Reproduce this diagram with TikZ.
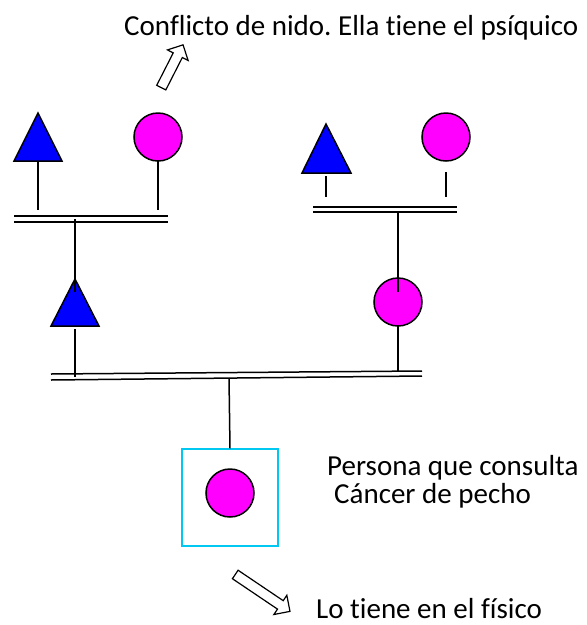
\documentclass[tikz,border=0pt]{standalone}
\usepackage{fontspec}
\setmainfont{Carlito}[RawFeature={-liga;-clig}]
\usetikzlibrary{shapes.arrows}
\frenchspacing
\definecolor{tblue}{RGB}{0,0,255}
\definecolor{tmag}{RGB}{255,0,255}
\definecolor{tcyan}{RGB}{0,200,240}
\tikzset{
  ln/.style={line width=1.5pt, black},
  tri/.style={ln, fill=tblue, line join=miter},
  fem/.style={circle, draw=black, line width=1.5pt, fill=tmag, minimum size=48pt, inner sep=0pt, outer sep=0pt},
  lbl/.style={anchor=base west, inner sep=0pt, font=\fontsize{29}{35}\selectfont},
  blockarrow/.style={single arrow, draw=black, line width=1.2pt, fill=white, inner sep=4.5pt, single arrow head extend=6.5pt, single arrow head indent=0pt, minimum height=#1},
}
\begin{document}
\begin{tikzpicture}[x=1pt,y=-1pt]
\useasboundingbox (0,0) rectangle (587,625);

% texts
\node[lbl] (t1) at (124,35) {Conflicto de nido. Ella tiene el psíquico};
\node[lbl] (t2) at (327,475) {Persona que consulta};
\node[lbl] (t3) at (334,503) {Cáncer de pecho};
\node[lbl] (t4) at (316,618) {Lo tiene en el físico};

% arrows
\node[blockarrow=48pt, rotate=63] (a1) at (171,68.5) {};
\node[blockarrow=66pt, rotate=-34] (a2) at (260.5,591.5) {};

% top-left couple
\draw[tri] (38,113) -- (62,161) -- (14,161) -- cycle;
\coordinate (tlb) at (38,161);
\node[fem] (c1) at (158,137) {};
\draw[ln] (tlb) -- (38,210);
\draw[ln] (c1.south) -- (158,210);
\draw[ln] (14,216) -- (168,216);
\draw[ln] (14,222) -- (168,222);

% top-right couple
\draw[tri] (326,124) -- (351,173) -- (302,173) -- cycle;
\coordinate (trb) at (326,176);
\node[fem] (c2) at (446,137) {};
\draw[ln] (trb) -- (326,197);
\draw[ln] (446,172) -- (446,197);
\draw[ln] (313,207) -- (457,207);
\draw[ln] (313,212) -- (457,212);

% middle generation
\draw[tri] (75,279) -- (99,326) -- (51,326) -- cycle;
\coordinate (mlt) at (75,292);
\draw[ln] (75,219) -- (mlt);
\draw[ln] (75,329) -- (75,377);

\node[fem] (c3) at (398,302) {};
\draw[ln] (398,212) -- (398,292);
\draw[ln] (c3.south) -- (398,372);

% bottom double line
\draw[ln] (51,374) -- (422,371);
\draw[ln] (51,380) -- (422,376);

% consultant
\node[draw=tcyan, line width=1.5pt, minimum width=96pt, minimum height=97pt, inner sep=0pt] (sq) at (230,497.5) {};
\node[fem] (c4) at (230,493) {};
\draw[ln] (229,378) -- (sq.north);
\end{tikzpicture}
\end{document}
